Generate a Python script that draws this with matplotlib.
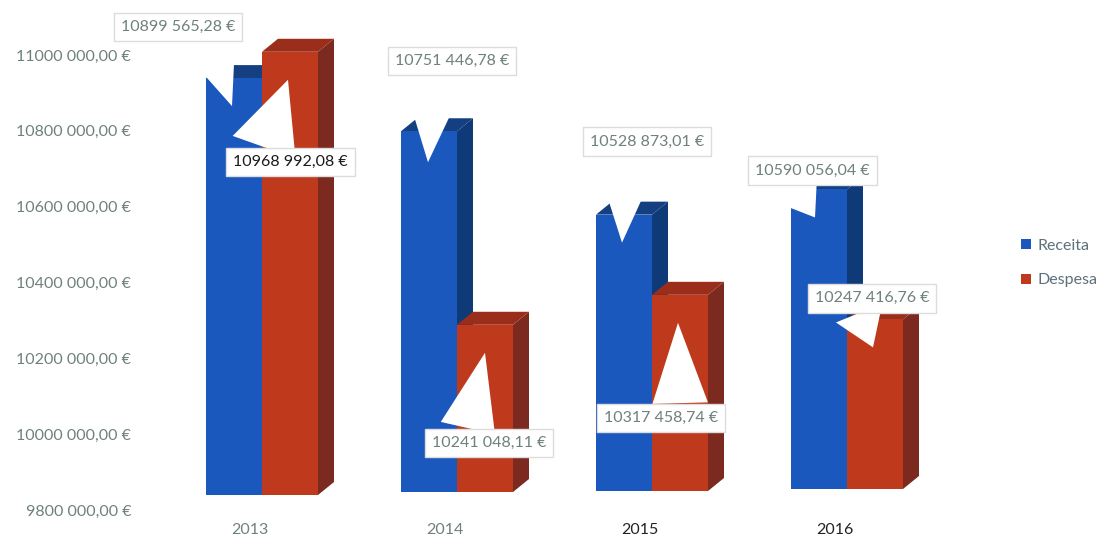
import matplotlib
matplotlib.use("Agg")
import matplotlib.pyplot as plt
from matplotlib.patches import Polygon, Patch
from matplotlib.transforms import offset_copy
import numpy as np

# ---------------- data ----------------
years = ["2013", "2014", "2015", "2016"]
receita = [10899565.28, 10751446.78, 10528873.01, 10590056.04]
despesa = [10968992.08, 10241048.11, 10317458.74, 10247416.76]
receita_labels = ["10899 565,28 €", "10751 446,78 €", "10528 873,01 €", "10590 056,04 €"]
despesa_labels = ["10968 992,08 €", "10241 048,11 €", "10317 458,74 €", "10247 416,76 €"]
yticks = [9800000, 10000000, 10200000, 10400000, 10600000, 10800000, 11000000]
ytick_labels = ["9800 000,00 €", "10000 000,00 €", "10200 000,00 €", "10400 000,00 €",
                "10600 000,00 €", "10800 000,00 €", "11000 000,00 €"]
series_names = ["Receita", "Despesa"]

# ---------------- style ----------------
FONT = "Lato"
BLUE, BLUE_DARK, BLUE_TOP = "#1a58bd", "#0f3a78", "#143f80"
RED, RED_DARK, RED_TOP = "#bf3a1c", "#7c2a1f", "#9a2e1b"
GRAY = "#6f817c"
W, H = 1110, 538
fig = plt.figure(figsize=(W / 100, H / 100), dpi=100)

ax_left, ax_right = 145, 990
ax_top, ax_bot = 20, 510
pos = [ax_left / W, 1 - ax_bot / H, (ax_right - ax_left) / W, (ax_bot - ax_top) / H]
px_per_unit_y = 75.83 / 200000
ymin = 9800000
ymax = ymin + (ax_bot - ax_top) / px_per_unit_y
group_px = 195.0
xmin = (ax_left - 262) / group_px
xmax = (ax_right - 262) / group_px

# axis carrying the scale labels
ax = fig.add_axes(pos)
ax.set_xlim(xmin, xmax)
ax.set_ylim(ymin, ymax)
for s in ax.spines.values():
    s.set_visible(False)
ax.set_yticks(yticks)
ax.set_yticklabels(ytick_labels, fontfamily=FONT, fontsize=11.5, color=GRAY)
ax.tick_params(axis="y", length=0, pad=10)
x = np.arange(len(years))
ax.set_xticks(x - 0.06)
ax.set_xticklabels(years, fontfamily=FONT, fontsize=11.5)
for lbl, c in zip(ax.get_xticklabels(), [GRAY, GRAY, "#222222", "#222222"]):
    lbl.set_color(c)
ax.tick_params(axis="x", length=0, pad=9)
ax.patch.set_alpha(0)

# bar axis (3D floor raised, slightly more for groups further right: perspective)
axb = fig.add_axes(pos)
axb.set_xlim(xmin, xmax)
axb.set_ylim(ymin, ymax)
axb.axis("off")
floor_raise_px = [15, 18, 19, 21]

bw = 56 / group_px
ddx = 16 / group_px
ddy = 13 / px_per_unit_y

def bar3d(xc, val, side, top, z, tr):
    xl, xr = xc - bw / 2, xc + bw / 2
    axb.add_patch(Polygon([(xr, ymin), (xr + ddx, ymin + ddy), (xr + ddx, val + ddy), (xr, val)],
                          closed=True, fc=side, ec="none", zorder=z, transform=tr))
    axb.add_patch(Polygon([(xl, val), (xl + ddx, val + ddy), (xr + ddx, val + ddy), (xr, val)],
                          closed=True, fc=top, ec="none", zorder=z, transform=tr))

for i in range(len(years)):
    tr = offset_copy(axb.transData, fig=fig, y=floor_raise_px[i], units="dots")
    bar3d(x[i] - bw / 2, receita[i], BLUE_DARK, BLUE_TOP, 1, tr)
    axb.bar(x[i] - bw / 2, receita[i] - ymin, bottom=ymin, width=bw, color=BLUE, zorder=2,
            transform=tr)
    bar3d(x[i] + bw / 2, despesa[i], RED_DARK, RED_TOP, 3, tr)
    axb.bar(x[i] + bw / 2, despesa[i] - ymin, bottom=ymin, width=bw, color=RED, zorder=4,
            transform=tr)

# callouts
tip_dx = [[-2, -1, -2, -4], [-2, 0, -2, -2]]
tip_dy = [[28, 31, 28, 28], [28, 28, 28, 28]]
box_off = [[(-54, 79), (24, 101), (25, 101), (-3, 47)],
           [(2, -82), (4, -90), (-17, -95), (-1, 49)]]
relpos = [[(0.75, 0), (0.35, 0), (0.33, 0), (0.3, 0)],
          [(0.25, 1), (0.3, 1), (0.67, 1), (0.36, 0)]]
tail_w = [[2.0, 2.4, 2.4, 2.0], [2.4, 2.0, 2.0, 1.8]]
label_colors = [[GRAY] * 4, ["#1a1a1a", GRAY, GRAY, GRAY]]
for s, (vals, labels, sign) in enumerate([(receita, receita_labels, -1), (despesa, despesa_labels, 1)]):
    for i in range(len(years)):
        xc = x[i] + sign * bw / 2
        tr = offset_copy(axb.transData, fig=fig, x=tip_dx[s][i],
                         y=floor_raise_px[i] - tip_dy[s][i], units="dots")
        axb.annotate(labels[i], xy=(xc, vals[i]), xycoords=tr,
                     xytext=box_off[s][i], textcoords="offset pixels",
                     ha="center", va="center", fontfamily=FONT, fontsize=11.5,
                     color=label_colors[s][i], zorder=10,
                     bbox=dict(boxstyle="square,pad=0.45", fc="white", ec="#dcdcdc", lw=1),
                     arrowprops=dict(arrowstyle=f"wedge,tail_width={tail_w[s][i]},shrink_factor=0.5",
                                     fc="white", ec="none", mutation_scale=20,
                                     shrinkA=0, shrinkB=0, relpos=relpos[s][i]))

# legend
handles = [Patch(fc=BLUE, ec="none"), Patch(fc=RED, ec="none")]
leg = fig.legend(handles, series_names, loc="center left",
                 bbox_to_anchor=(1007 / W, 1 - 263 / H), frameon=False,
                 handlelength=0.6, handleheight=0.6, handletextpad=0.4, labelspacing=1.3,
                 prop=dict(family=FONT, size=11.5))
for t in leg.get_texts():
    t.set_color("#5d707c")

fig.savefig("out.png", dpi=100)
